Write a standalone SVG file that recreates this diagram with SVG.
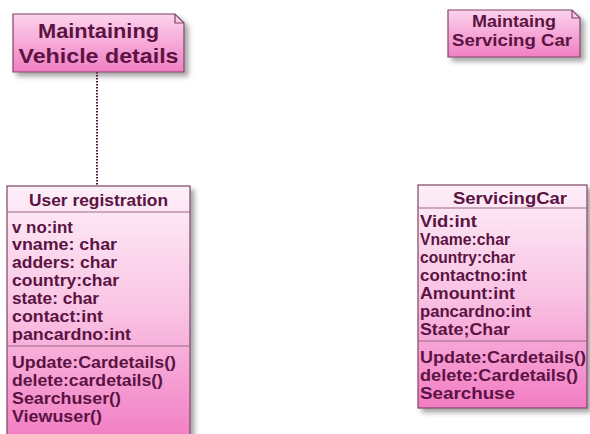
<svg xmlns="http://www.w3.org/2000/svg" width="590" height="434" viewBox="0 0 590 434">
  <style>
    .box { stroke: #7d4566; stroke-width: 1.2; }
    .sep { stroke: #9a6a84; stroke-width: 1.2; }
    .t { font-family: "Liberation Sans", Arial, sans-serif; font-weight: bold; fill: #5a1342; }
    .attr { font-size: 16px; }
    .head { font-size: 16.5px; }
    .note { font-size: 21px; }
    .note2 { font-size: 16.5px; }
  </style>
  <defs>
    <linearGradient id="noteFill" x1="0" y1="0" x2="0" y2="1">
      <stop offset="0" stop-color="#fbd3ec"/>
      <stop offset="1" stop-color="#f17fc3"/>
    </linearGradient>
    <linearGradient id="classFill" x1="0" y1="0" x2="0" y2="1">
      <stop offset="0" stop-color="#fdeff8"/>
      <stop offset="0.5" stop-color="#f9c2e3"/>
      <stop offset="1" stop-color="#f27cc3"/>
    </linearGradient>
    <filter id="shadow" x="-10%" y="-10%" width="130%" height="130%">
      <feDropShadow dx="4" dy="4" stdDeviation="2.5" flood-color="#000" flood-opacity="0.35"/>
    </filter>
  </defs>

  <!-- dotted link between the note and the class -->
  <g id="connectors">
    <line x1="97" y1="72" x2="97" y2="186" stroke="#5a1342" stroke-width="2" stroke-dasharray="1.5 1.5"/>
  </g>

  <!-- note: Maintaining Vehicle details -->
  <g id="note-vehicle">
    <path class="box" d="M13 14 H175 L184 23 V72 H13 Z" fill="url(#noteFill)" filter="url(#shadow)"/>
    <path class="box" d="M175 14 V23 H184" fill="none"/>
    <text class="t note" x="98.5" y="38" text-anchor="middle" textLength="121" lengthAdjust="spacingAndGlyphs">Maintaining</text>
    <text class="t note" x="98.5" y="63" text-anchor="middle" textLength="160" lengthAdjust="spacingAndGlyphs">Vehicle details</text>
  </g>

  <!-- note: Maintaing Servicing Car -->
  <g id="note-servicing">
    <path class="box" d="M448 10 H572 L580 18 V57 H448 Z" fill="url(#noteFill)" filter="url(#shadow)"/>
    <path class="box" d="M572 10 V18 H580" fill="none"/>
    <text class="t note2" x="514" y="27" text-anchor="middle" textLength="84" lengthAdjust="spacingAndGlyphs">Maintaing</text>
    <text class="t note2" x="512" y="46" text-anchor="middle" textLength="120" lengthAdjust="spacingAndGlyphs">Servicing Car</text>
  </g>

  <!-- class: User registration -->
  <g id="class-user-registration">
    <rect class="box" x="7" y="186" width="183" height="256" fill="url(#classFill)" filter="url(#shadow)"/>
    <line class="sep" x1="7" y1="212" x2="190" y2="212"/>
    <line class="sep" x1="7" y1="346" x2="190" y2="346"/>
    <text class="t head" x="98.5" y="206" text-anchor="middle" textLength="139" lengthAdjust="spacingAndGlyphs">User registration</text>
    <text class="t attr" x="12" y="232.5" textLength="61" lengthAdjust="spacingAndGlyphs">v no:int</text>
    <text class="t attr" x="12" y="250.4" textLength="105" lengthAdjust="spacingAndGlyphs">vname: char</text>
    <text class="t attr" x="12" y="268.3" textLength="105" lengthAdjust="spacingAndGlyphs">adders: char</text>
    <text class="t attr" x="12" y="286.2" textLength="107" lengthAdjust="spacingAndGlyphs">country:char</text>
    <text class="t attr" x="12" y="304.1" textLength="87" lengthAdjust="spacingAndGlyphs">state: char</text>
    <text class="t attr" x="12" y="322" textLength="91" lengthAdjust="spacingAndGlyphs">contact:int</text>
    <text class="t attr" x="12" y="339.9" textLength="119" lengthAdjust="spacingAndGlyphs">pancardno:int</text>
    <text class="t attr" x="12" y="368" textLength="164" lengthAdjust="spacingAndGlyphs">Update:Cardetails()</text>
    <text class="t attr" x="12" y="386" textLength="151" lengthAdjust="spacingAndGlyphs">delete:cardetails()</text>
    <text class="t attr" x="12" y="404" textLength="109" lengthAdjust="spacingAndGlyphs">Searchuser()</text>
    <text class="t attr" x="12" y="422" textLength="90" lengthAdjust="spacingAndGlyphs">Viewuser()</text>
  </g>

  <!-- class: ServicingCar -->
  <g id="class-servicing-car">
    <rect class="box" x="418" y="185" width="169" height="223" fill="url(#classFill)" filter="url(#shadow)"/>
    <line class="sep" x1="418" y1="208" x2="587" y2="208"/>
    <line class="sep" x1="418" y1="341" x2="587" y2="341"/>
    <text class="t head" x="510" y="204" text-anchor="middle" textLength="114" lengthAdjust="spacingAndGlyphs">ServicingCar</text>
    <text class="t attr" x="420" y="227" textLength="57" lengthAdjust="spacingAndGlyphs">Vid:int</text>
    <text class="t attr" x="420" y="245" textLength="90" lengthAdjust="spacingAndGlyphs">Vname:char</text>
    <text class="t attr" x="420" y="263" textLength="95" lengthAdjust="spacingAndGlyphs">country:char</text>
    <text class="t attr" x="420" y="281" textLength="107" lengthAdjust="spacingAndGlyphs">contactno:int</text>
    <text class="t attr" x="420" y="299" textLength="95" lengthAdjust="spacingAndGlyphs">Amount:int</text>
    <text class="t attr" x="420" y="317" textLength="111" lengthAdjust="spacingAndGlyphs">pancardno:int</text>
    <text class="t attr" x="420" y="335" textLength="90" lengthAdjust="spacingAndGlyphs">State;Char</text>
    <text class="t attr" x="420" y="363" textLength="166" lengthAdjust="spacingAndGlyphs">Update:Cardetails()</text>
    <text class="t attr" x="420" y="381" textLength="158" lengthAdjust="spacingAndGlyphs">delete:Cardetails()</text>
    <text class="t attr" x="420" y="399" textLength="95" lengthAdjust="spacingAndGlyphs">Searchuse</text>
  </g>
</svg>
